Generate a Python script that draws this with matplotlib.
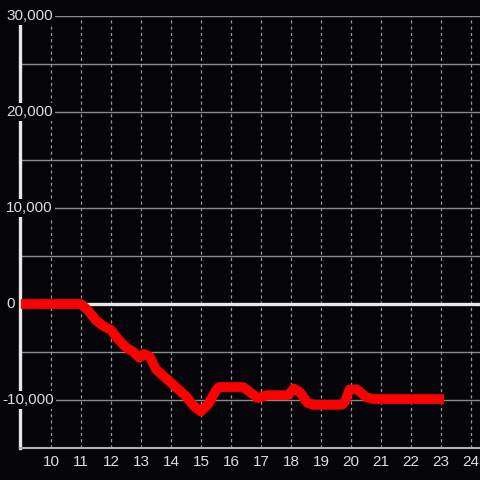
import matplotlib.pyplot as plt
from matplotlib.transforms import blended_transform_factory

plt.rcParams['font.family'] = ['Liberation Sans', 'DejaVu Sans']

# values
hours = [9.0, 11.0, 11.25, 11.5, 11.75, 12.0, 12.25, 12.5, 12.75, 12.95, 13.1, 13.3,
         13.5, 13.75, 14.0, 14.25, 14.5, 14.75, 15.0, 15.25, 15.5, 15.6, 16.4,
         16.6, 16.9, 17.2, 17.9, 18.1, 18.3, 18.55, 18.75, 19.7, 19.8, 19.95, 20.2,
         20.5, 20.75, 23.1]
balance = [0, 0, -700, -1700, -2300, -2700, -3700, -4500, -5000, -5600, -5200, -5500,
           -6800, -7500, -8200, -8900, -9600, -10600, -11200, -10400, -9000, -8650, -8650,
           -9100, -9800, -9500, -9500, -8800, -9200, -10300, -10500, -10500, -10200, -8900, -8900,
           -9700, -9900, -9900]

y_ticks = [30000, 20000, 10000, 0, -10000]
y_labels = ['30,000', '20,000', '10,000', '0', '-10,000']
x_ticks = list(range(10, 25))

bg = '#050408'
fig = plt.figure(figsize=(4.8, 4.8), dpi=100, facecolor=bg)
ax = fig.add_axes([20 / 480, 32 / 480, 460 / 480, 432 / 480], facecolor=bg)

ax.set_xlim(8.97, 24.3)
ax.set_ylim(-15000, 30000)

for y in range(-15000, 30001, 5000):
    ax.axhline(y, color='#8a8a8a', lw=1, zorder=1)
for x in x_ticks:
    ax.axvline(x, color='#9a9a9a', lw=0.9, ls=(0, (2.5, 2.5)), zorder=1)
ax.axhline(0, color='#e8e8e8', lw=2.4, zorder=2)

ax.plot(hours, balance, color='#ff0000', lw=7, solid_capstyle='butt',
        solid_joinstyle='round', zorder=3)

for s in ['top', 'right']:
    ax.spines[s].set_visible(False)
ax.spines['left'].set_color('#e8e8e8')
ax.spines['left'].set_linewidth(2.4)
ax.spines['bottom'].set_color('#b0b0b0')
ax.spines['bottom'].set_linewidth(1.5)

ax.set_xticks(x_ticks)
ax.set_xticklabels([str(x) for x in x_ticks])
ax.tick_params(axis='x', length=0, colors='#dddddd', labelsize=11, pad=5)
ax.set_yticks([])

trans = blended_transform_factory(fig.transFigure, ax.transData)
for val, lab in zip(y_ticks, y_labels):
    x0 = 2 / 480 if lab.startswith('-') else 6 / 480
    ax.text(x0, val, lab, transform=trans, ha='left', va='center', color='#dddddd',
            fontsize=11, zorder=5, clip_on=False,
            bbox=dict(facecolor=bg, edgecolor='none', pad=1.5))

plt.savefig('out.png', dpi=100, facecolor=bg)
